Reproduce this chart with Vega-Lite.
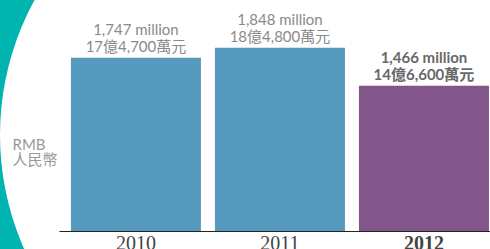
{
  "$schema": "https://vega.github.io/schema/vega-lite/v6.json",
  "width": 431,
  "height": 231,
  "autosize": "none",
  "padding": {"left": 59, "top": 0, "right": 0, "bottom": 18},
  "background": "#00b5b0",
  "config": {"view": {"stroke": null}},
  "resolve": {"scale": {"x": "independent", "y": "independent"}, "axis": {"x": "independent", "y": "independent"}},
  "layer": [
    {
      "data": {"values": [{"shape": "backdrop"}]},
      "mark": {"type": "point", "filled": true, "color": "#ffffff", "opacity": 1, "size": 315844, "strokeWidth": 0, "shape": "circle"},
      "encoding": {
        "x": {"datum": 222, "type": "quantitative", "scale": {"domain": [0, 431], "nice": false, "zero": false}, "axis": null},
        "y": {"datum": 96, "type": "quantitative", "scale": {"domain": [0, 231], "nice": false, "zero": false}, "axis": null}
      }
    },
    {
      "data": {"values": [
        {"year": "2010", "value": 1747, "en": "1,747 million", "zh": "17億4,700萬元"},
        {"year": "2011", "value": 1848, "en": "1,848 million", "zh": "18億4,800萬元"},
        {"year": "2012", "value": 1466, "en": "1,466 million", "zh": "14億6,600萬元"}
      ]},
      "encoding": {
        "x": {
          "field": "year", "type": "nominal", "sort": ["2010", "2011", "2012"],
          "scale": {"paddingInner": 0.0972, "paddingOuter": 0.045, "align": 0.92},
          "axis": {
            "zindex": 2,
            "title": null, "ticks": false, "domain": true, "domainColor": "#222222", "domainWidth": 1.2,
            "labelFont": "Liberation Serif", "labelFontSize": 20, "labelColor": "#444444", "labelPadding": 2, "labelAngle": 0,
            "labelFontWeight": {"condition": {"test": "datum.value == '2012'", "value": "bold"}, "value": "normal"}
          }
        },
        "y": {
          "field": "value", "type": "quantitative",
          "scale": {"domain": [0, 2330], "nice": false},
          "axis": {
            "zindex": 2,
            "title": ["RMB", "人民幣"], "domain": false, "ticks": false, "labels": false, "grid": false,
            "titleAngle": 0, "titleAlign": "left", "titleBaseline": "alphabetic", "titleX": -47, "titleY": 149,
            "titleFontSize": 15, "titleFontWeight": "normal", "titleColor": "#999999",
            "titleFont": "Lato, Noto Sans CJK TC", "titleLineHeight": 15
          }
        }
      },
      "layer": [
        {
          "mark": {"type": "bar"},
          "encoding": {
            "color": {"condition": {"test": "datum.year == '2012'", "value": "#82558b"}, "value": "#5699bf"}
          }
        },
        {
          "transform": [{"filter": "datum.year != '2012'"}],
          "mark": {"type": "text", "dy": -23, "baseline": "alphabetic", "fontSize": 15, "font": "Lato, Noto Sans CJK TC", "color": "#8a8a8a"},
          "encoding": {"text": {"field": "en"}}
        },
        {
          "transform": [{"filter": "datum.year != '2012'"}],
          "mark": {"type": "text", "dy": -6, "baseline": "alphabetic", "fontSize": 15, "font": "Lato, Noto Sans CJK TC", "color": "#8a8a8a"},
          "encoding": {"text": {"field": "zh"}}
        },
        {
          "transform": [{"filter": "datum.year == '2012'"}],
          "mark": {"type": "text", "dy": -23, "baseline": "alphabetic", "fontSize": 15, "fontWeight": "bold", "font": "Lato, Noto Sans CJK TC", "color": "#686868"},
          "encoding": {"text": {"field": "en"}}
        },
        {
          "transform": [{"filter": "datum.year == '2012'"}],
          "mark": {"type": "text", "dy": -6, "baseline": "alphabetic", "fontSize": 15, "fontWeight": "bold", "font": "Lato, Noto Sans CJK TC", "color": "#686868"},
          "encoding": {"text": {"field": "zh"}}
        }
      ]
    }
  ]
}
